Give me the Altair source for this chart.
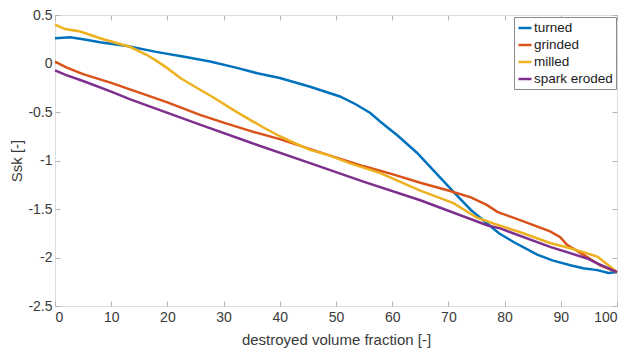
import altair as alt
import pandas as pd

names = ["turned", "grinded", "milled", "spark eroded"]
colors = ["#0072BD", "#D95319", "#EDB120", "#7E2F8E"]

turned_x = [0, 2.7, 5, 8, 12.8, 18, 23, 27.6, 32, 36, 40, 45.4, 50.7, 53.5, 56.1, 57.9, 60.9, 64.4,
            67.3, 71.5, 74, 76.9, 79, 81.6, 85.8, 88.5, 91.7, 94, 96.5, 98.5, 100]
turned_y = [0.26, 0.27, 0.25, 0.22, 0.18, 0.12, 0.07, 0.02, -0.04, -0.10, -0.15, -0.24, -0.34,
            -0.42, -0.51, -0.60, -0.74, -0.92, -1.10, -1.36, -1.51, -1.65, -1.75, -1.84, -1.97,
            -2.03, -2.08, -2.11, -2.13, -2.16, -2.15]

grinded_x = [0, 2, 5, 10, 15, 20, 25.8, 30, 35, 40, 48.4, 55, 60, 65, 70, 74, 76.9, 78.7, 83,
             88.1, 89.9, 91.1, 94, 97, 100]
grinded_y = [0.02, -0.04, -0.11, -0.20, -0.30, -0.40, -0.53, -0.61, -0.70, -0.78, -0.94, -1.06,
             -1.14, -1.23, -1.31, -1.38, -1.46, -1.53, -1.62, -1.73, -1.79, -1.87, -1.97, -2.08, -2.15]

milled_x = [0, 1.8, 4.5, 8, 13.4, 16.3, 18, 19.8, 22.3, 25.2, 28.2, 31.2, 34.1, 37.1, 40, 43, 45.4,
            48.4, 52.5, 57.9, 65, 70.9, 75.1, 78, 82.8, 88.1, 92, 96.5, 100]
milled_y = [0.40, 0.355, 0.33, 0.26, 0.17, 0.09, 0.03, -0.04, -0.15, -0.25, -0.35, -0.46, -0.56,
            -0.66, -0.75, -0.83, -0.89, -0.94, -1.03, -1.13, -1.31, -1.44, -1.59, -1.65, -1.74,
            -1.85, -1.91, -1.99, -2.15]

spark_x = [0, 2, 5, 10, 13.4, 25.8, 35, 45, 55, 65, 77, 79.2, 88.1, 94.7, 96.5, 100]
spark_y = [-0.07, -0.12, -0.18, -0.29, -0.37, -0.63, -0.82, -1.02, -1.22, -1.41,
           -1.67, -1.70, -1.89, -2.01, -2.06, -2.15]

x_ticks = [0, 10, 20, 30, 40, 50, 60, 70, 80, 90, 100]
y_ticks = [-2.5, -2, -1.5, -1, -0.5, 0, 0.5]

rows = []
for name, xs, ys in [("turned", turned_x, turned_y), ("grinded", grinded_x, grinded_y),
                     ("milled", milled_x, milled_y), ("spark eroded", spark_x, spark_y)]:
    for i, (a, b) in enumerate(zip(xs, ys)):
        rows.append({"series": name, "x": a, "y": b, "i": i})
df = pd.DataFrame(rows)

GRID = "#b4b4b4"
TXT = "#3a3a3a"
x_scale = alt.Scale(domain=[0, 100], nice=False, zero=False)
y_scale = alt.Scale(domain=[-2.5, 0.5], nice=False, zero=False)

lines = alt.Chart(df).mark_line(strokeWidth=2.5).encode(
    x=alt.X("x:Q", scale=x_scale, axis=alt.Axis(
        values=x_ticks, offset=-5, tickSize=5, domain=False, grid=False, tickColor=GRID,
        labelPadding=4, labelFontSize=14, labelColor=TXT, title="destroyed volume fraction [-]",
        titleFontSize=15, titleFontWeight="normal", titleColor=TXT, titlePadding=8)),
    y=alt.Y("y:Q", scale=y_scale, axis=alt.Axis(
        values=y_ticks, offset=-5, tickSize=5, domain=False, grid=False, tickColor=GRID,
        labelPadding=3, labelFontSize=14, labelColor=TXT, labelExpr="'' + datum.value",
        title="Ssk [-]", titleFontSize=15, titleFontWeight="normal", titleColor=TXT,
        titlePadding=3)),
    color=alt.Color("series:N", scale=alt.Scale(domain=names, range=colors), legend=alt.Legend(
        title=None, orient="none", legendX=459, legendY=2, strokeColor="#8a8a8a",
        fillColor="white", padding=3, symbolType="stroke", symbolSize=169,
        symbolStrokeWidth=2.5, labelFontSize=13.5, labelColor="#1a1a1a", labelOffset=1,
        rowPadding=2)),
    order="i:Q",
)

frame = alt.Chart(df).mark_point(opacity=0).encode(
    x=alt.X("x:Q", scale=x_scale, axis=alt.Axis(
        orient="top", values=x_ticks, offset=-5, tickSize=5, domain=False, grid=False,
        tickColor=GRID, labels=False, title=None)),
    y=alt.Y("y:Q", scale=y_scale, axis=alt.Axis(
        orient="right", values=y_ticks, offset=-5, tickSize=5, domain=False, grid=False,
        tickColor=GRID, labels=False, title=None)),
)

chart = alt.layer(lines, frame).resolve_axis(x="independent", y="independent").properties(
    width=562, height=291,
    autosize=alt.AutoSizeParams(type="none"),
    padding={"left": 47, "top": 7, "right": 8, "bottom": 46},
).configure_view(stroke=GRID, strokeWidth=1).configure(font="Liberation Sans")

chart.save("out.html", embed_options={"renderer": "svg", "actions": False})
